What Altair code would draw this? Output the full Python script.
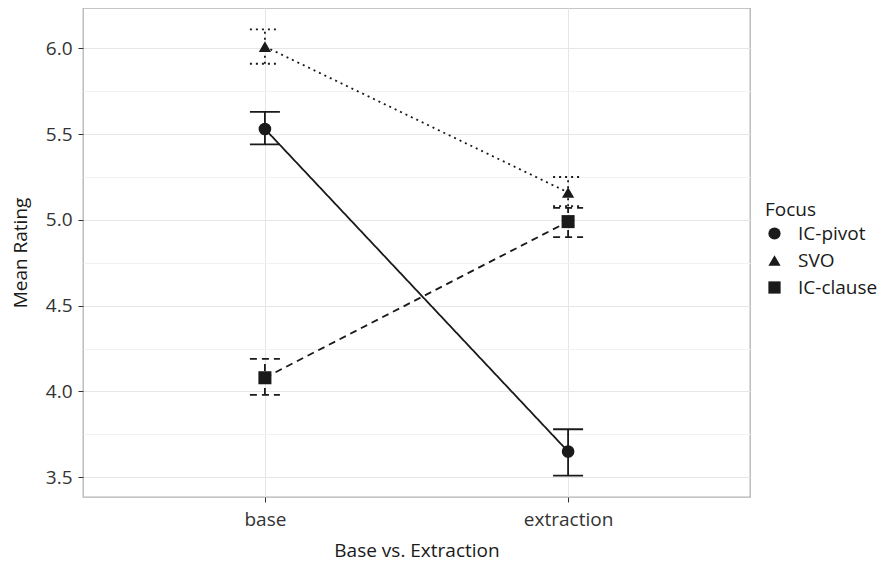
import altair as alt
import pandas as pd

conditions = ["base", "extraction"]
focus_levels = ["IC-pivot", "SVO", "IC-clause"]
means = {"IC-pivot": [5.53, 3.65], "SVO": [6.01, 5.16], "IC-clause": [4.08, 4.99]}
lower = {"IC-pivot": [5.44, 3.51], "SVO": [5.91, 5.08], "IC-clause": [3.98, 4.90]}
upper = {"IC-pivot": [5.63, 3.78], "SVO": [6.11, 5.25], "IC-clause": [4.19, 5.07]}

rows = []
for f in focus_levels:
    for i, c in enumerate(conditions):
        rows.append({"cond": c, "Focus": f, "grp": f, "mean": means[f][i],
                     "lo": lower[f][i], "hi": upper[f][i]})
df = pd.DataFrame(rows)

FONT = "Open Sans"
INK = "#1A1A1A"

x_enc = alt.X("cond:N", scale=alt.Scale(type="point", padding=0.6, domain=conditions),
              axis=alt.Axis(title="Base vs. Extraction", labelAngle=0, grid=True,
                            gridColor="#E6E6E6", domain=False, tickSize=5,
                            tickColor="#333333", labelPadding=8, titlePadding=12))
y_scale = alt.Scale(domain=[3.385, 6.235], nice=False, zero=False)
y_ticks = [3.5, 3.75, 4.0, 4.25, 4.5, 4.75, 5.0, 5.25, 5.5, 5.75, 6.0]
major = "datum.value % 0.5 == 0"
y_axis = alt.Axis(title="Mean Rating", values=y_ticks, format=".1f",
                  labelExpr=f"{major} ? format(datum.value, '.1f') : ''",
                  gridColor={"condition": {"test": major, "value": "#E6E6E6"}, "value": "#F2F2F2"},
                  tickOpacity={"condition": {"test": major, "value": 1}, "value": 0},
                  domain=False, tickSize=5, tickColor="#333333", labelPadding=6,
                  titlePadding=15)

# data-driven (sorted) domain: IC-clause, IC-pivot, SVO
dash = alt.StrokeDash("grp:N", scale=alt.Scale(range=[[7, 5], [1, 0], [2, 4]]), legend=None)

base = alt.Chart(df)
LW = 1.8

lines = base.mark_line(color=INK, strokeWidth=LW).encode(
    x=x_enc, y=alt.Y("mean:Q", scale=y_scale, axis=y_axis), detail="grp:N", strokeDash=dash)

bars = base.mark_rule(color=INK, strokeWidth=LW).encode(
    x="cond:N", y="lo:Q", y2="hi:Q", strokeDash=dash)

cap_hi = base.mark_rule(color=INK, strokeWidth=LW, xOffset=-15, x2Offset=15).encode(
    x="cond:N", x2="cond:N", y="hi:Q", strokeDash=dash)
cap_lo = base.mark_rule(color=INK, strokeWidth=LW, xOffset=-15, x2Offset=15).encode(
    x="cond:N", x2="cond:N", y="lo:Q", strokeDash=dash)

points = base.mark_point(filled=True, color=INK, opacity=1).encode(
    x="cond:N", y="mean:Q",
    size=alt.Size("grp:N", scale=alt.Scale(range=[170, 150, 210]), legend=None),
    shape=alt.Shape("Focus:N", scale=alt.Scale(domain=focus_levels,
                    range=["circle", "triangle-up", "square"]),
                    legend=alt.Legend(title="Focus", orient="none", legendX=682, legendY=193,
                                      symbolFillColor=INK, symbolStrokeColor=INK,
                                      symbolSize=150, rowPadding=7, titlePadding=4,
                                      labelOffset=14, padding=0)))

chart = alt.layer(lines, bars, cap_hi, cap_lo, points).properties(
    width=667, height=489,
    autosize=alt.AutoSizeParams(type="none"),
    padding={"left": 75, "top": 0, "right": 131, "bottom": 64},
).configure_view(stroke="#B3B3B3", strokeWidth=1.3).configure_axis(
    labelFont=FONT, titleFont=FONT, labelFontSize=19, titleFontSize=19,
    labelColor="#333333", titleColor="#1A1A1A", titleFontWeight="normal"
).configure_legend(
    labelFont=FONT, titleFont=FONT, labelFontSize=19, titleFontSize=19,
    labelColor="#1A1A1A", titleColor="#1A1A1A", titleFontWeight="normal"
)

chart.save("out.html", embed_options={"renderer": "svg", "actions": False})
